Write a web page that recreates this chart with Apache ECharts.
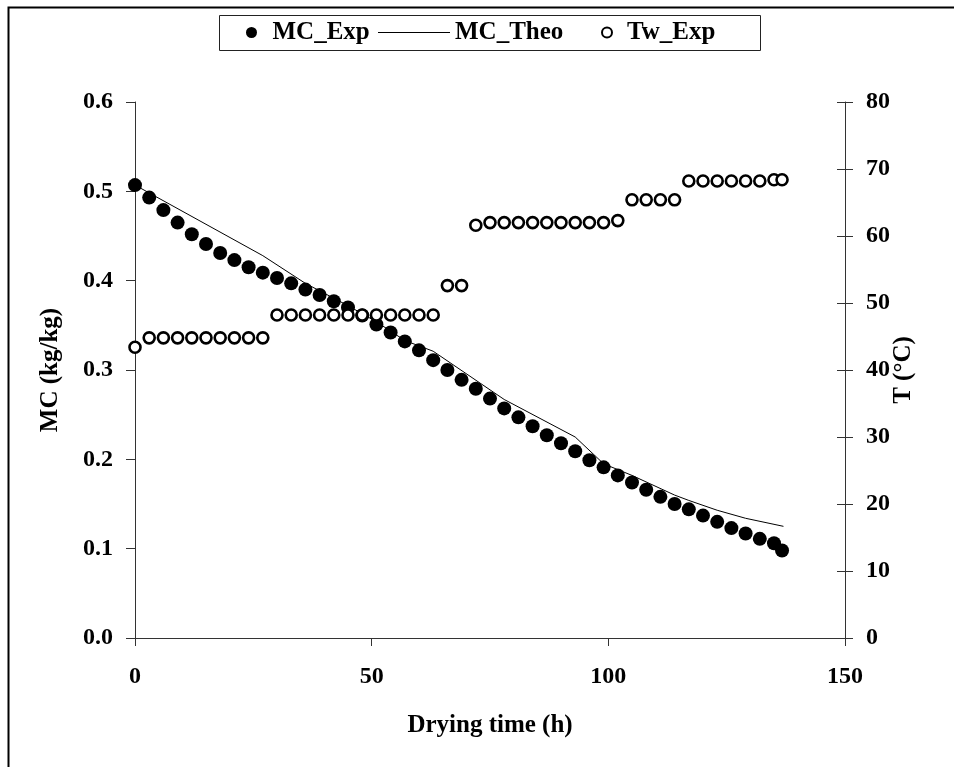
<!DOCTYPE html>
<html>
<head>
<meta charset="utf-8">
<title>Drying curve</title>
<script src="https://cdn.jsdelivr.net/npm/echarts@6/dist/echarts.min.js"></script>
<style>
  html, body { margin: 0; padding: 0; background: #fff; }
  #chart { width: 954px; height: 767px; }
</style>
</head>
<body>
<div id="chart"></div>
<script>
// Sampling times of the experiment (h)
const expTime = [0, 3, 6, 9, 12, 15, 18, 21, 24, 27, 30, 33, 36, 39, 42, 45, 48, 51, 54, 57,
  60, 63, 66, 69, 72, 75, 78, 81, 84, 87, 90, 93, 96, 99, 102, 105, 108, 111, 114, 117,
  120, 123, 126, 129, 132, 135, 136.7];

// Measured moisture content (kg/kg)
const mcExp = [0.507, 0.493, 0.479, 0.465, 0.452, 0.441, 0.431, 0.423, 0.415, 0.409,
  0.403, 0.397, 0.390, 0.384, 0.377, 0.370, 0.361, 0.351, 0.342, 0.332,
  0.322, 0.311, 0.300, 0.289, 0.279, 0.268, 0.257, 0.247, 0.237, 0.227,
  0.218, 0.209, 0.199, 0.191, 0.182, 0.174, 0.166, 0.158, 0.150, 0.144,
  0.137, 0.130, 0.123, 0.117, 0.111, 0.106, 0.098];

// Measured wet-bulb temperature (°C)
const twExp = [43.4, 44.8, 44.8, 44.8, 44.8, 44.8, 44.8, 44.8, 44.8, 44.8,
  48.2, 48.2, 48.2, 48.2, 48.2, 48.2, 48.2, 48.2, 48.2, 48.2,
  48.2, 48.2, 52.6, 52.6, 61.6, 62.0, 62.0, 62.0, 62.0, 62.0,
  62.0, 62.0, 62.0, 62.0, 62.3, 65.4, 65.4, 65.4, 65.4, 68.2,
  68.2, 68.2, 68.2, 68.2, 68.2, 68.4, 68.4];

// Model prediction of moisture content
const theoTime = [0, 27, 36, 45, 51, 57, 63, 78, 93, 99, 105, 114, 117, 123, 129, 137];
const mcTheo = [0.507, 0.428, 0.397, 0.372, 0.354, 0.333, 0.321, 0.267, 0.225, 0.195,
  0.182, 0.160, 0.154, 0.143, 0.134, 0.125];

// Axis ticks
const xTicks = [0, 50, 100, 150];
const mcTicks = [0, 0.1, 0.2, 0.3, 0.4, 0.5, 0.6];
const tTicks = [0, 10, 20, 30, 40, 50, 60, 70, 80];

const FONT = 'Liberation Serif';
const ink = '#000';
const axisInk = '#333';

const pair = (xs, ys) => xs.map((x, i) => [x, ys[i]]);

const textBase = { fontFamily: FONT, fontWeight: 'bold', color: ink };

const chart = echarts.init(document.getElementById('chart'), null, { renderer: 'canvas' });

chart.setOption({
  backgroundColor: '#fff',
  animation: false,
  grid: { left: 135, right: 109, top: 102, bottom: 129, outerBoundsMode: 'none' },
  xAxis: {
    type: 'value',
    min: xTicks[0], max: xTicks[xTicks.length - 1], interval: 50,
    name: 'Drying time (h)', nameLocation: 'middle', nameGap: 75,
    nameTextStyle: Object.assign({ fontSize: 25 }, textBase),
    axisLine: { show: true, lineStyle: { color: axisInk, width: 1 } },
    axisTick: { show: true, inside: false, length: 8, lineStyle: { color: axisInk } },
    axisLabel: Object.assign({ fontSize: 24, margin: 27 }, textBase),
    splitLine: { show: false }
  },
  yAxis: [
    {
      type: 'value', position: 'left',
      min: mcTicks[0], max: mcTicks[mcTicks.length - 1], interval: 0.1,
      name: 'MC (kg/kg)', nameLocation: 'middle', nameGap: 72,
      nameTextStyle: Object.assign({ fontSize: 25 }, textBase),
      axisLine: { show: true, lineStyle: { color: axisInk, width: 1 } },
      axisTick: { show: true, inside: false, length: 9, lineStyle: { color: axisInk } },
      axisLabel: Object.assign({ fontSize: 24, margin: 22, formatter: v => v.toFixed(1) }, textBase),
      splitLine: { show: false }
    },
    {
      type: 'value', position: 'right',
      min: tTicks[0], max: tTicks[tTicks.length - 1], interval: 10,
      name: 'T (°C)', nameLocation: 'middle', nameGap: 46, nameMoveOverlap: false,
      nameTextStyle: Object.assign({ fontSize: 25 }, textBase),
      axisLine: { show: true, lineStyle: { color: axisInk, width: 1 } },
      axisTick: { show: true, inside: false, length: 8, lineStyle: { color: axisInk } },
      axisLabel: Object.assign({ fontSize: 24, margin: 21 }, textBase),
      splitLine: { show: false }
    },
    {
      // inner half of the crossing ticks on the temperature axis
      type: 'value', position: 'right',
      min: tTicks[0], max: tTicks[tTicks.length - 1], interval: 10,
      axisLine: { show: false },
      axisTick: { show: true, inside: true, length: 8, lineStyle: { color: axisInk } },
      axisLabel: { show: false },
      splitLine: { show: false }
    }
  ],
  legend: [
    {
      data: ['MC_Exp'], left: 246, top: 20, padding: 0,
      itemWidth: 32, itemHeight: 11, icon: 'circle',
      itemStyle: { color: ink, opacity: 1 },
      textStyle: Object.assign({ fontSize: 25 }, textBase)
    },
    {
      data: ['MC_Theo'], left: 378, top: 20, padding: 0,
      itemWidth: 72, itemHeight: 1.2, icon: 'rect',
      itemStyle: { color: ink, opacity: 1 },
      textStyle: Object.assign({ fontSize: 25 }, textBase)
    },
    {
      data: ['Tw_Exp'], left: 601, top: 20, padding: 0,
      itemWidth: 30, itemHeight: 10, icon: 'circle',
      itemStyle: { color: '#fff', borderColor: ink, borderWidth: 2, opacity: 1 },
      textStyle: Object.assign({ fontSize: 25 }, textBase)
    }
  ],
  graphic: [
    {
      type: 'polyline', silent: true,
      shape: { points: [[8.5, 767], [8.5, 7.5], [954, 7.5]] },
      style: { stroke: ink, lineWidth: 2, fill: null }
    },
    {
      type: 'rect', silent: true,
      shape: { x: 219.5, y: 15.5, width: 541, height: 35 },
      style: { stroke: '#222', lineWidth: 1, fill: null }
    }
  ],
  series: [
    {
      name: 'MC_Exp', type: 'scatter', yAxisIndex: 0, z: 2,
      symbol: 'circle', symbolSize: 14,
      itemStyle: { color: ink, opacity: 1 },
      data: pair(expTime, mcExp)
    },
    {
      name: 'MC_Theo', type: 'line', yAxisIndex: 0, z: 3,
      symbol: 'none', smooth: false,
      lineStyle: { color: ink, width: 1 },
      itemStyle: { color: ink },
      data: pair(theoTime, mcTheo)
    },
    {
      name: 'Tw_Exp', type: 'scatter', yAxisIndex: 1, z: 4,
      symbol: 'circle', symbolSize: 11,
      itemStyle: { color: '#fff', borderColor: ink, borderWidth: 2.6, opacity: 1 },
      data: pair(expTime, twExp)
    }
  ]
});
</script>
</body>
</html>
